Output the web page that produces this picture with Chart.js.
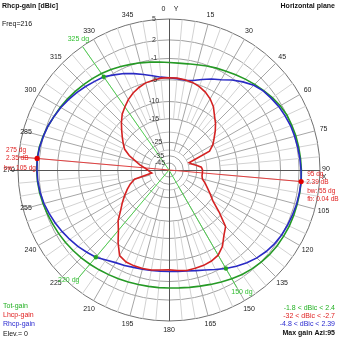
<!DOCTYPE html>
<html><head><meta charset="utf-8">
<script src="https://cdn.jsdelivr.net/npm/chart.js@4.4.0/dist/chart.umd.min.js"></script>
<style>html,body{margin:0;padding:0;background:#fff;}canvas{display:block;}</style>
</head><body>
<canvas id="c" width="339" height="339"></canvas>
<script>
// ---------- data (dBic, azimuth every 5 degrees) ----------
const azimuths = [0,5,10,15,20,25,30,35,40,45,50,55,60,65,70,75,80,85,90,95,100,105,110,115,120,125,130,135,140,145,150,155,160,165,170,175,180,185,190,195,200,205,210,215,220,225,230,235,240,245,250,255,260,265,270,275,280,285,290,295,300,305,310,315,320,325,330,335,340,345,350,355];
const totGain = [-1.7,-1.75,-1.65,-1.45,-1.15,-0.85,-0.55,-0.2,0.2,0.6,1.0,1.4,1.75,2.0,2.1,2.2,2.25,2.3,2.35,2.4,2.4,2.4,2.4,2.4,2.35,2.3,2.2,2.05,1.85,1.6,1.3,1.0,0.7,0.45,0.28,0.15,0.1,0.1,0.12,0.18,0.28,0.4,0.55,0.72,0.9,1.08,1.25,1.42,1.58,1.72,1.88,2.05,2.2,2.3,2.35,2.35,2.25,2.05,1.8,1.5,1.3,1.05,0.8,0.55,0.3,0.05,-0.25,-0.55,-0.85,-1.1,-1.35,-1.55];
const lhcpGain = [-4.6,-4.6,-4.7,-4.9,-5.3,-5.9,-6.7,-7.8,-9.4,-10.7,-12.2,-13.8,-15.2,-17.3,-29,-27.5,-25,-22.5,-22,-22,-22,-21.5,-19.8,-18.2,-16.3,-14.3,-10.8,-7.2,-6.0,-4.4,-3.4,-3.0,-2.8,-2.75,-2.7,-2.9,-3.1,-3.0,-2.8,-2.7,-2.7,-2.8,-3.3,-5.3,-7.5,-9.1,-11.4,-13.2,-15.0,-16.8,-18.6,-21,-32,-30.5,-29,-27,-24,-21.5,-18.2,-15.8,-14.5,-13.2,-11.8,-10.3,-8.9,-7.9,-6.9,-6.1,-5.5,-5.0,-4.8,-4.6];
const rhcpGain = [-4.6,-4.7,-4.8,-4.5,-3.8,-3.0,-2.3,-1.3,-0.4,0.4,0.9,1.2,1.5,1.7,1.9,2.0,2.1,2.2,2.3,2.39,2.35,2.3,2.2,2.1,2.0,1.8,1.5,1.1,0.6,0.0,-0.61,-1.3,-1.9,-2.3,-2.6,-2.75,-2.8,-2.8,-2.7,-2.55,-2.4,-2.1,-1.8,-1.3,-0.61,-0.2,0.25,0.6,0.95,1.3,1.6,1.9,2.1,2.25,2.3,2.33,2.2,2.0,1.8,1.5,1.2,0.85,0.5,0.1,-0.3,-0.61,-1.3,-1.9,-2.6,-3.3,-3.9,-4.4];
const ringTicks = [5,2,-1,-5,-10,-15,-25,-35,-45];
const minorRings = [-20,-30];
const angleTickLabels = ['0','15','30','45','60','75','90','105','120','135','150','165','180','195','210','225','240','255','270','285','300','315','330','345'];
const maxMarkerAz = [275,95];
const maxMarkerGain = [2.35,2.39];
const bwMarkerAz = [325,220,150];
const bwMarkerGain = [-0.61,-0.61,-0.61];
const legendLeft = ['Tot-gain','Lhcp-gain','Rhcp-gain','Elev.= 0'];
const legendRight = ['-1.8 < dBic < 2.4','-32 < dBic < -2.7','-4.8 < dBic < 2.39','Max gain Azi:95'];

// ARRL-like log scale mapping dB -> relative radius
const topDb = 5;
function scaleVal(db){ const d = topDb - db; return Math.exp(-0.049*d - 0.00025*d*d); }

const GREEN = '#259a25', RED = '#d42222', BLUE = '#2a2ac4', MARKG = '#4fcf4f';
const FONT = '"Liberation Sans", Arial, sans-serif';

const decor = {
  id: 'decor',
  beforeDatasetsDraw(chart){
    const s = chart.scales.r, ctx = chart.ctx;
    const cx = s.xCenter, cy = s.yCenter;
    const pt = (az, v) => s.getPointPositionForValue(az/5, v);
    ctx.save();
    ctx.lineWidth = 1;
    azimuths.forEach(a => {
      if (a % 90 === 0) return;
      const major = a % 15 === 0;
      const p1 = pt(a, scaleVal(major ? -30 : -15)), p2 = pt(a, 1);
      ctx.strokeStyle = major ? '#a6a6a6' : '#d2d2d2';
      ctx.beginPath(); ctx.moveTo(p1.x, p1.y); ctx.lineTo(p2.x, p2.y); ctx.stroke();
    });
    // axes
    ctx.strokeStyle = '#555';
    const top = pt(0,1), bot = pt(180,1), lft = pt(270,1), rgt = pt(90,1);
    ctx.beginPath(); ctx.moveTo(cx+0.5, top.y); ctx.lineTo(cx+0.5, bot.y); ctx.stroke();
    ctx.beginPath(); ctx.moveTo(lft.x-8, cy+0.5); ctx.lineTo(rgt.x, cy+0.5); ctx.stroke();
    // beamwidth marker lines
    const bwLen = [1.0, 0.93, 0.9];
    ctx.strokeStyle = MARKG;
    bwMarkerAz.forEach((a,i) => {
      const p = pt(a, bwLen[i]);
      ctx.beginPath(); ctx.moveTo(cx, cy); ctx.lineTo(p.x, p.y); ctx.stroke();
    });
    // max gain line
    ctx.strokeStyle = '#e04040';
    const pl = pt(maxMarkerAz[0], 1), pr = pt(maxMarkerAz[1], scaleVal(maxMarkerGain[1]));
    ctx.beginPath(); ctx.moveTo(pl.x, pl.y); ctx.lineTo(pr.x, pr.y); ctx.stroke();
    ctx.restore();
  },
  afterDatasetsDraw(chart){
    const s = chart.scales.r, ctx = chart.ctx;
    const cx = s.xCenter, cy = s.yCenter;
    const pt = (az, v) => s.getPointPositionForValue(az/5, v);
    ctx.save();
    // dots
    const dl = [];
    maxMarkerAz.forEach((a,i) => {
      const p = pt(a, scaleVal(maxMarkerGain[i])); dl.push(p);
      ctx.fillStyle = '#e00000'; ctx.beginPath(); ctx.arc(p.x, p.y, 2.6, 0, 2*Math.PI); ctx.fill();
    });
    const gp = [];
    bwMarkerAz.forEach((a,i) => {
      const p = pt(a, scaleVal(bwMarkerGain[i])); gp.push(p);
      ctx.fillStyle = '#22a022'; ctx.beginPath(); ctx.arc(p.x, p.y, 2.2, 0, 2*Math.PI); ctx.fill();
    });
    ctx.textBaseline = 'middle';
    // ring labels
    ctx.font = '7px ' + FONT; ctx.textAlign = 'center'; ctx.fillStyle = '#333';
    ringTicks.forEach(db => {
      const r = s.getDistanceFromCenterForValue(scaleVal(db));
      ctx.fillText(String(db), cx - (8 + 7*Math.min(1, r/50)), cy - r);
    });
    // angle labels
    ctx.fillStyle = '#222';
    angleTickLabels.forEach((t,i) => {
      const a = i*15;
      let rr = 160;
      if (a === 255 || a === 285) rr = 148;
      let x = cx + rr*Math.sin(a*Math.PI/180), y = cy - rr*Math.cos(a*Math.PI/180);
      if (a === 0) { x -= 5.5; y -= 0.5; }
      if (a === 90) { x -= 3; y -= 0.5; }
      ctx.fillText(t, x, y);
    });
    ctx.fillText('Y', cx + 7, cy - 160.5);
    ctx.fillText('X', cx + 155, cy + 7.5);
    // beamwidth labels
    ctx.fillStyle = '#33c033';
    const bwLen = [1.0, 0.93, 0.9];
    const bwOff = [[-4,-7],[-10,2],[5,4]];
    bwMarkerAz.forEach((a,i) => {
      const q = pt(a, bwLen[i]);
      ctx.fillText(a + ' dg', q.x + bwOff[i][0], q.y + bwOff[i][1]);
    });
    // max gain labels
    ctx.fillStyle = '#e02020'; ctx.textAlign = 'left';
    ctx.font = '6.5px ' + FONT;
    const L = dl[0], Rt = dl[1];
    ctx.fillText(maxMarkerAz[0] + ' dg', L.x - 31, L.y - 8.5);
    ctx.fillText(maxMarkerGain[0].toFixed(2) + ' dB', L.x - 31, L.y);
    ctx.fillText('bw: 105 dg', L.x - 33, L.y + 9.5);
    ctx.fillText(maxMarkerAz[1] + ' dg', Rt.x + 6, Rt.y - 7);
    ctx.fillText(maxMarkerGain[1].toFixed(2) + ' dB', Rt.x + 5, Rt.y + 0.5);
    ctx.fillText('bw: 55 dg', Rt.x + 6, Rt.y + 10);
    ctx.fillText('fb: 0.04 dB', Rt.x + 6, Rt.y + 18);
    // titles
    ctx.fillStyle = '#111';
    ctx.font = 'bold 7px ' + FONT; ctx.textAlign = 'left';
    ctx.fillText('Rhcp-gain [dBic]', 2, 6.5);
    ctx.textAlign = 'right';
    ctx.fillText('Horizontal plane', 335, 6.5);
    ctx.font = '7px ' + FONT; ctx.textAlign = 'left';
    ctx.fillText('Freq=216', 2, 24.5);
    // legends
    const lc = ['#22b022','#e02020','#2a2ad0','#111'];
    const ly = [306, 315.5, 324.5, 334];
    legendLeft.forEach((t,i) => { ctx.fillStyle = lc[i]; ctx.fillText(t, 3, ly[i]); });
    ctx.textAlign = 'right';
    const ry = [308, 316.5, 324.5, 333];
    legendRight.forEach((t,i) => {
      ctx.fillStyle = lc[i];
      ctx.font = (i === 3 ? 'bold ' : '') + '7px ' + FONT;
      ctx.fillText(t, 335, ry[i]);
    });
    ctx.restore();
  }
};

new Chart(document.getElementById('c'), {
  type: 'radar',
  data: {
    labels: azimuths.map(String),
    datasets: [
      { label: 'Lhcp-gain', data: lhcpGain.map(scaleVal), borderColor: RED, borderWidth: 1.6, pointRadius: 0, fill: false, tension: 0 },
      { label: 'Rhcp-gain', data: rhcpGain.map(scaleVal), borderColor: BLUE, borderWidth: 1.6, pointRadius: 0, fill: false, tension: 0 },
      { label: 'Tot-gain', data: totGain.map(scaleVal), borderColor: GREEN, borderWidth: 1.6, pointRadius: 0, fill: false, tension: 0 }
    ]
  },
  options: {
    responsive: false, animation: false, devicePixelRatio: 1,
    layout: { padding: { left: 18, right: 19, top: 19, bottom: 18 } },
    plugins: { legend: { display: false }, tooltip: { enabled: false } },
    scales: {
      r: {
        min: 0, max: 1, startAngle: 0,
        ticks: { display: false },
        pointLabels: { display: false },
        angleLines: { display: false },
        grid: {
          circular: true, lineWidth: 1,
          color: c => {
            const v = c.tick ? c.tick.value : 0;
            if (v >= 0.999) return '#707070';
            if (c.tick && c.tick.minor) return '#c4c4c4';
            return '#a0a0a0';
          }
        },
        afterBuildTicks: axis => {
          const t = [{ value: 0 }];
          minorRings.forEach(db => t.push({ value: scaleVal(db), minor: true }));
          ringTicks.forEach(db => t.push({ value: scaleVal(db) }));
          t.sort((a,b) => a.value - b.value);
          axis.ticks = t;
        }
      }
    }
  },
  plugins: [decor]
});
</script>
</body></html>
